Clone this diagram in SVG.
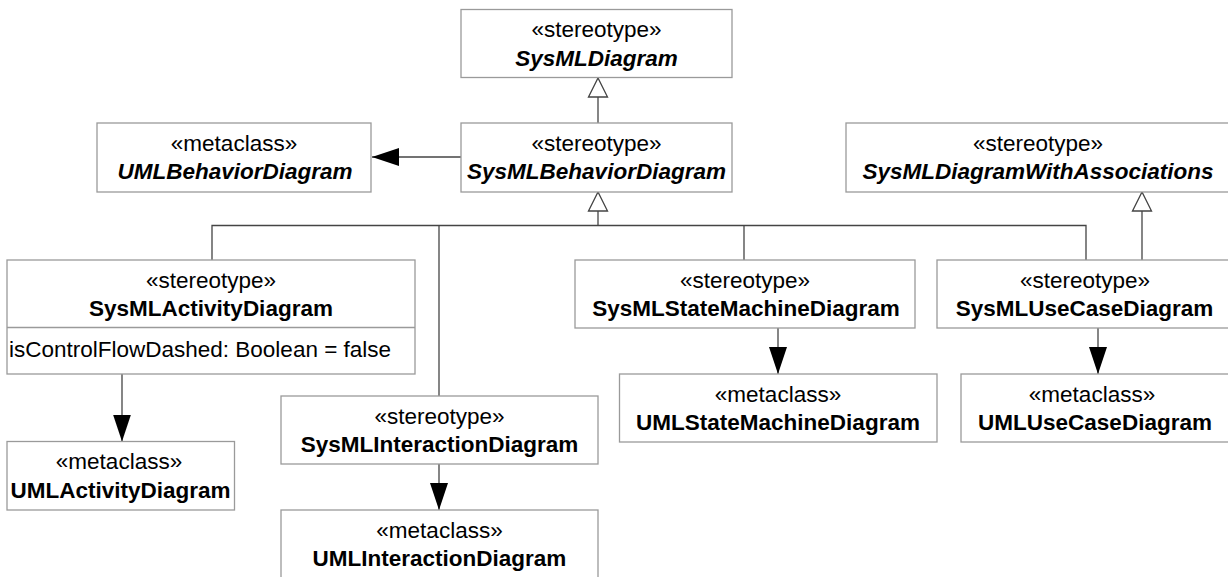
<svg xmlns="http://www.w3.org/2000/svg" width="1228" height="577" viewBox="0 0 1228 577">
<style>
.box{fill:#fff;stroke:#9a9a9a;stroke-width:1.3}
.st{font-family:"Liberation Sans",Arial,sans-serif;font-size:22.5px;fill:#000;text-anchor:middle}
.nm{font-family:"Liberation Sans",Arial,sans-serif;font-size:22.5px;font-weight:bold;fill:#000;text-anchor:middle}
.ab{font-style:italic}
.at{font-family:"Liberation Sans",Arial,sans-serif;font-size:22.5px;fill:#000}
.ln{fill:none;stroke:#444;stroke-width:1.3}
</style>
<defs>
<marker id="gen" markerUnits="userSpaceOnUse" markerWidth="22" markerHeight="22" viewBox="0 0 22 22" refX="20" refY="11" orient="auto">
<path d="M1,1.5 L20,11 L1,20.5 z" fill="#fff" stroke="#444" stroke-width="1.3"/>
</marker>
<marker id="arr" markerUnits="userSpaceOnUse" markerWidth="27" markerHeight="20" viewBox="0 0 27 20" refX="27" refY="10" orient="auto">
<path d="M0,1 L27,10 L0,19 z" fill="#000"/>
</marker>
</defs>

<g id="connectors">
<path class="ln" d="M598,123 L598,78" marker-end="url(#gen)"/>
<path class="ln" d="M461,157 L372,157" marker-end="url(#arr)"/>
<path class="ln" d="M598,225.5 L598,192" marker-end="url(#gen)"/>
<path class="ln" d="M212,260 L212,225.5 L1086,225.5 L1086,260"/>
<path class="ln" d="M439,225.5 L439,396"/>
<path class="ln" d="M744,225.5 L744,260"/>
<path class="ln" d="M1142,260 L1142,192" marker-end="url(#gen)"/>
<path class="ln" d="M122,374 L122,441.5" marker-end="url(#arr)"/>
<path class="ln" d="M439,464 L439,510" marker-end="url(#arr)"/>
<path class="ln" d="M778,328 L778,374" marker-end="url(#arr)"/>
<path class="ln" d="M1098,328 L1098,374" marker-end="url(#arr)"/>
</g>

<g id="SysMLDiagram">
<rect class="box" x="461" y="9.5" width="271" height="68"/>
<text class="st" x="596.5" y="37">«stereotype»</text>
<text class="nm ab" x="596.5" y="65.5">SysMLDiagram</text>
</g>

<g id="UMLBehaviorDiagram">
<rect class="box" x="97" y="123" width="274" height="69"/>
<text class="st" x="234" y="150.5">«metaclass»</text>
<text class="nm ab" x="235" y="179">UMLBehaviorDiagram</text>
</g>

<g id="SysMLBehaviorDiagram">
<rect class="box" x="461" y="123" width="271" height="69"/>
<text class="st" x="596.5" y="150.5">«stereotype»</text>
<text class="nm ab" x="596.5" y="179">SysMLBehaviorDiagram</text>
</g>

<g id="SysMLDiagramWithAssociations">
<rect class="box" x="846" y="123" width="400" height="69"/>
<text class="st" x="1038" y="150.5">«stereotype»</text>
<text class="nm ab" x="1038" y="179">SysMLDiagramWithAssociations</text>
</g>

<g id="SysMLActivityDiagram">
<rect class="box" x="7" y="260" width="408" height="114"/>
<line class="box" x1="7" y1="327.5" x2="415" y2="327.5"/>
<text class="st" x="211" y="287.5">«stereotype»</text>
<text class="nm" x="211" y="316">SysMLActivityDiagram</text>
<text class="at" x="9" y="357">isControlFlowDashed: Boolean = false</text>
</g>

<g id="UMLActivityDiagram">
<rect class="box" x="7" y="441.5" width="227.5" height="68.5"/>
<text class="st" x="119" y="469">«metaclass»</text>
<text class="nm" x="120.5" y="497.5">UMLActivityDiagram</text>
</g>

<g id="SysMLInteractionDiagram">
<rect class="box" x="281" y="396" width="317" height="68"/>
<text class="st" x="439.5" y="423.5">«stereotype»</text>
<text class="nm" x="439.5" y="452">SysMLInteractionDiagram</text>
</g>

<g id="UMLInteractionDiagram">
<rect class="box" x="281" y="510" width="317" height="72"/>
<text class="st" x="439.5" y="537.5">«metaclass»</text>
<text class="nm" x="439.5" y="566">UMLInteractionDiagram</text>
</g>

<g id="SysMLStateMachineDiagram">
<rect class="box" x="575" y="260" width="340" height="68"/>
<text class="st" x="745" y="287.5">«stereotype»</text>
<text class="nm" x="746" y="316">SysMLStateMachineDiagram</text>
</g>

<g id="UMLStateMachineDiagram">
<rect class="box" x="619.5" y="374" width="317.5" height="68"/>
<text class="st" x="778" y="401.5">«metaclass»</text>
<text class="nm" x="778" y="430">UMLStateMachineDiagram</text>
</g>

<g id="SysMLUseCaseDiagram">
<rect class="box" x="937" y="260" width="300" height="68"/>
<text class="st" x="1085" y="287.5">«stereotype»</text>
<text class="nm" x="1084.5" y="316">SysMLUseCaseDiagram</text>
</g>

<g id="UMLUseCaseDiagram">
<rect class="box" x="961" y="374" width="300" height="68"/>
<text class="st" x="1092" y="401.5">«metaclass»</text>
<text class="nm" x="1095" y="430">UMLUseCaseDiagram</text>
</g>
</svg>
